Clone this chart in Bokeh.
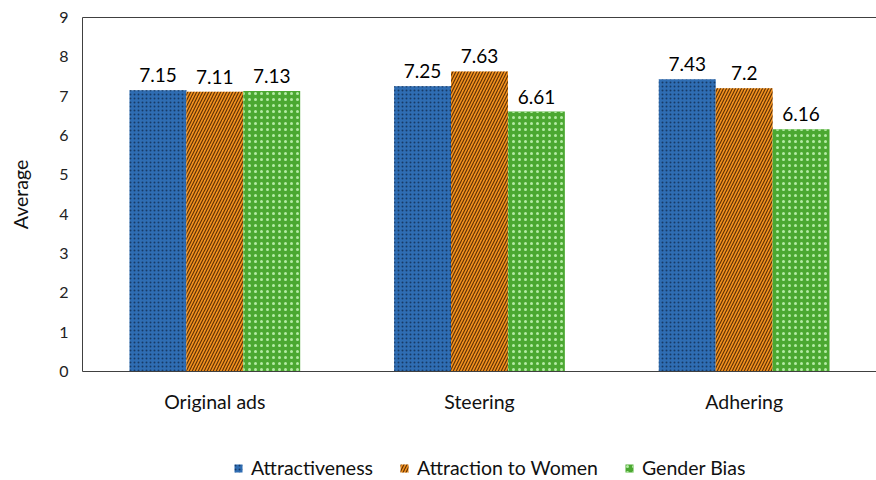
from bokeh.plotting import figure
from bokeh.layouts import column
from bokeh.models import (ColumnDataSource, FactorRange, Legend, LegendItem,
                          CategoricalAxis, FixedTicker, LabelSet, Range1d)
from bokeh.core.properties import value
from bokeh.transform import dodge
from bokeh.embed import file_html
from bokeh.resources import INLINE

# Data
categories = ["Original ads", "Steering", "Adhering"]
series = ["Attractiveness", "Attraction to Women", "Gender Bias"]
attractiveness = [7.15, 7.25, 7.43]
attraction_to_women = [7.11, 7.63, 7.2]
gender_bias = [7.13, 6.61, 6.16]
y_ticks = [0, 1, 2, 3, 4, 5, 6, 7, 8, 9]

FONT = "Lato"

values = [attractiveness, attraction_to_women, gender_bias]
offsets = [-0.215, 0.0, 0.215]
bar_w = 0.215
styles = [
    dict(fill_color="#2f6db3", hatch_pattern="dot", hatch_color="#173a66",
         hatch_scale=4, hatch_weight=1),
    dict(fill_color="#f5921e", hatch_pattern="right_diagonal_line",
         hatch_color="#3a1a00", hatch_alpha=0.8, hatch_scale=6,
         hatch_weight=1.2),
    dict(fill_color="#4ba831", hatch_pattern="dot", hatch_color="#b4eba5",
         hatch_scale=6, hatch_weight=1),
]

# main chart
p = figure(x_range=FactorRange(*categories), y_range=(0, 9),
           width=876, height=450,
           output_backend="svg", toolbar_location=None,
           min_border_left=82, min_border_right=0, min_border_top=17,
           min_border_bottom=79)
p.outline_line_color = None
p.xgrid.grid_line_color = None
p.ygrid.grid_line_color = None
p.background_fill_color = "white"
p.border_fill_color = "white"

for name, vals, off, st in zip(series, values, offsets, styles):
    src = ColumnDataSource(dict(cat=categories, val=vals,
                                lbl=[f"{v:g}" for v in vals]))
    p.vbar(x=dodge("cat", off, range=p.x_range), top="val", width=bar_w,
           source=src, line_color=None, **st)
    labels = LabelSet(x=dodge("cat", off, range=p.x_range), y="val", text="lbl",
                      source=src, text_align="center", text_baseline="bottom",
                      y_offset=8, text_font=value(FONT), text_font_size="19px",
                      text_color="black")
    p.add_layout(labels)

# y axis
p.yaxis.ticker = FixedTicker(ticks=y_ticks)
p.yaxis.major_tick_line_color = None
p.yaxis.minor_tick_line_color = None
p.yaxis.major_tick_out = 0
p.yaxis.axis_line_color = "#404040"
p.yaxis.major_label_text_font = FONT
p.yaxis.major_label_text_font_size = "16px"
p.yaxis.major_label_text_color = "#222222"
p.yaxis.major_label_standoff = 14
p.yaxis.axis_label = "Average"
p.yaxis.axis_label_text_font = FONT
p.yaxis.axis_label_text_font_size = "19.5px"
p.yaxis.axis_label_text_font_style = "normal"
p.yaxis.axis_label_text_color = "#111111"
p.yaxis.axis_label_standoff = 24

# x axis
p.xaxis.major_tick_line_color = None
p.xaxis.minor_tick_line_color = None
p.xaxis.major_tick_out = 0
p.xaxis.axis_line_color = "#404040"
p.xaxis.major_label_text_font = FONT
p.xaxis.major_label_text_font_size = "19.5px"
p.xaxis.major_label_text_color = "#111111"
p.xaxis.major_label_standoff = 18

# top border line
top = CategoricalAxis(axis_line_color="#404040", major_tick_line_color=None,
                      minor_tick_line_color=None, major_tick_out=0,
                      major_label_text_font_size="1px",
                      major_label_text_color=None)
p.add_layout(top, "above")

# legend strip underneath, with swatches styled like the bars
lg = figure(width=876, height=30, x_range=Range1d(0, 1), y_range=Range1d(0, 1),
            output_backend="svg", toolbar_location=None,
            min_border_left=0, min_border_right=0, min_border_top=0,
            min_border_bottom=0)
lg.axis.visible = False
lg.grid.grid_line_color = None
lg.outline_line_color = None
items = []
for name, st in zip(series, styles):
    # swatch renderer kept outside the visible range; only its legend shows
    r = lg.vbar(x=[5], top=[1], width=bar_w, line_color=None, **st)
    items.append(LegendItem(label=name, renderers=[r]))
legend = Legend(items=items, orientation="horizontal", location=(151, 1),
                label_text_font=FONT, label_text_font_size="19.5px",
                label_text_color="#111111", label_height=20,
                glyph_width=10, glyph_height=10, label_standoff=8, spacing=26,
                border_line_color=None, background_fill_alpha=0,
                padding=0, margin=0)
lg.add_layout(legend, "center")

open("out.html", "w").write(file_html(column(p, lg, spacing=0), INLINE))
